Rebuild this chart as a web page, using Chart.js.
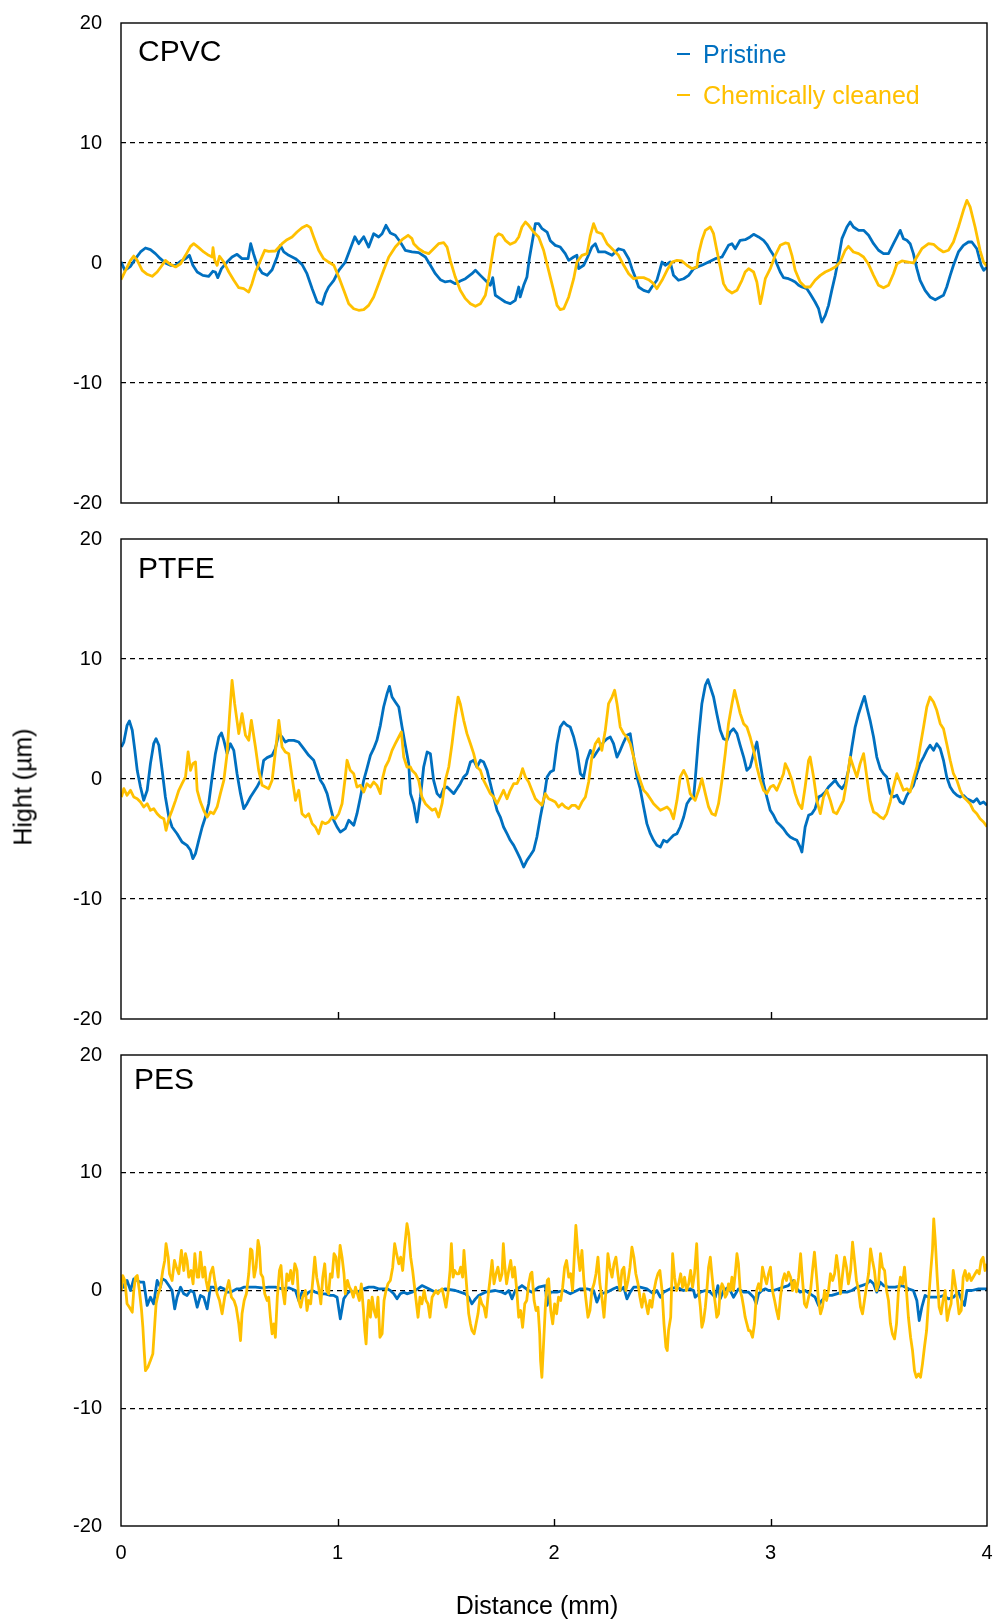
<!DOCTYPE html>
<html>
<head>
<meta charset="utf-8">
<title>Surface profiles</title>
<script src="https://cdn.jsdelivr.net/npm/chart.js@4.4.1/dist/chart.umd.min.js"></script>
<style>
  body { margin: 0; background: #fff; }
  #fig { position: relative; width: 995px; height: 1623px; font-family: "Liberation Sans", Arial, sans-serif; color: #000; }
  #fig canvas { position: absolute; left: 0; }
  .txt { position: absolute; line-height: 1; white-space: nowrap; transform: translateY(-50%); }
  .panel-name { font-size: 30px; }
  .legend { font-size: 25px; }
  .dash { position: absolute; width: 13px; height: 2px; }
  .axis-title { font-size: 25px; }
</style>
</head>
<body>
<div id="fig">
  <canvas id="cpvc" width="995" height="520" style="top:0px"></canvas>
  <canvas id="ptfe" width="995" height="516" style="top:520px"></canvas>
  <canvas id="pes" width="995" height="587" style="top:1036px"></canvas>

  <div class="txt panel-name" style="left:138px;top:51px">CPVC</div>
  <div class="txt panel-name" style="left:138px;top:568px">PTFE</div>
  <div class="txt panel-name" style="left:134px;top:1079px">PES</div>

  <div class="dash" style="left:677px;top:53px;background:#0070C0"></div>
  <div class="txt legend" style="left:703px;top:54px;color:#0070C0">Pristine</div>
  <div class="dash" style="left:677px;top:94px;background:#FFC000"></div>
  <div class="txt legend" style="left:703px;top:95px;color:#FFC000">Chemically cleaned</div>

  <div class="txt axis-title" style="left:23px;top:787px;transform:translate(-50%,-50%) rotate(-90deg)">Hight (µm)</div>
  <div class="txt axis-title" style="left:537px;top:1605px;transform:translate(-50%,-50%)">Distance (mm)</div>
</div>
<script>
// profile data: [distance (mm), height (µm)]
const seriesNames = ["Pristine", "Chemically cleaned"];
const distanceTicks = [0, 1, 2, 3, 4];
const heightTicks = [-20, -10, 0, 10, 20];

const cpvcPristine = [
  [0,0.1],[0.018,-0.61],[0.044,-0.28],[0.067,0.36],[0.09,0.92],[0.113,1.25],[0.136,1.11],[0.159,0.78],[0.182,0.36],[0.205,0.0],
  [0.228,-0.19],[0.252,-0.19],[0.275,0.14],[0.298,0.36],[0.316,0.64],[0.332,-0.19],[0.352,-0.75],[0.378,-1.03],[0.405,-1.11],[0.424,-0.69],
  [0.436,-0.75],[0.447,-1.22],[0.464,-0.47],[0.49,0.08],[0.513,0.5],[0.536,0.72],[0.559,0.36],[0.587,0.36],[0.599,1.61],[0.612,0.78],
  [0.629,-0.19],[0.652,-0.83],[0.675,-1.03],[0.698,-0.56],[0.721,0.5],[0.736,1.47],[0.752,0.92],[0.775,0.64],[0.806,0.36],[0.836,-0.11],
  [0.859,-0.89],[0.883,-2.14],[0.906,-3.25],[0.929,-3.44],[0.944,-2.56],[0.959,-2.0],[0.983,-1.44],[1.006,-0.61],[1.036,0.08],[1.059,1.19],
  [1.08,2.19],[1.098,1.61],[1.121,2.19],[1.144,1.33],[1.167,2.44],[1.19,2.17],[1.206,2.44],[1.224,3.14],[1.244,2.5],[1.267,2.31],
  [1.29,1.75],[1.313,1.06],[1.344,0.92],[1.375,0.86],[1.406,0.5],[1.429,-0.19],[1.452,-0.89],[1.475,-1.39],[1.498,-1.58],[1.521,-1.5],
  [1.544,-1.72],[1.567,-1.5],[1.591,-1.31],[1.621,-0.89],[1.637,-0.61],[1.66,-1.03],[1.691,-1.58],[1.706,-1.86],[1.717,-1.22],[1.729,-2.69],
  [1.752,-2.97],[1.775,-3.25],[1.798,-3.39],[1.821,-3.11],[1.837,-2.0],[1.844,-2.83],[1.86,-1.86],[1.875,-1.17],[1.886,0.36],[1.898,1.61],
  [1.914,3.28],[1.929,3.28],[1.945,2.86],[1.968,2.58],[1.983,1.86],[2.006,1.47],[2.029,1.33],[2.052,0.78],[2.068,0.22],[2.091,0.5],
  [2.106,0.64],[2.114,-0.47],[2.137,-0.19],[2.152,0.36],[2.175,1.33],[2.191,1.61],[2.206,0.92],[2.237,0.92],[2.268,0.64],[2.298,1.19],
  [2.322,1.06],[2.345,0.36],[2.36,-0.47],[2.375,-1.17],[2.391,-2.0],[2.414,-2.28],[2.437,-2.42],[2.452,-2.0],[2.475,-1.44],[2.499,0.08],
  [2.514,-0.19],[2.537,0.08],[2.552,-1.03],[2.575,-1.44],[2.599,-1.31],[2.622,-1.03],[2.645,-0.47],[2.668,-0.28],[2.683,-0.19],[2.714,0.08],
  [2.745,0.36],[2.776,0.5],[2.806,1.47],[2.822,1.61],[2.837,1.19],[2.86,1.89],[2.883,1.94],[2.906,2.17],[2.922,2.39],[2.945,2.17],
  [2.968,1.89],[2.983,1.56],[2.999,1.06],[3.014,0.64],[3.029,-0.06],[3.045,-0.75],[3.06,-1.22],[3.083,-1.31],[3.099,-1.44],[3.114,-1.58],
  [3.13,-1.86],[3.145,-2.0],[3.168,-2.14],[3.183,-2.56],[3.206,-3.25],[3.222,-3.81],[3.237,-4.92],[3.253,-4.36],[3.268,-3.53],[3.283,-2.28],
  [3.299,-1.03],[3.314,0.36],[3.33,2.03],[3.353,3.0],[3.368,3.42],[3.383,3.0],[3.407,2.72],[3.43,2.72],[3.453,2.31],[3.476,1.61],
  [3.499,1.06],[3.522,0.78],[3.545,0.78],[3.568,1.61],[3.584,2.17],[3.599,2.72],[3.614,2.03],[3.63,1.89],[3.645,1.61],[3.66,0.78],
  [3.676,-0.47],[3.691,-1.44],[3.714,-2.28],[3.737,-2.83],[3.761,-3.06],[3.784,-2.83],[3.799,-2.69],[3.814,-2.0],[3.83,-1.03],[3.845,-0.19],
  [3.868,0.92],[3.891,1.47],[3.914,1.75],[3.93,1.75],[3.953,1.19],[3.973,-0.19],[3.985,-0.61],[4.0,-0.33]
];

const cpvcCleaned = [
  [0,-1.39],[0.021,-0.61],[0.044,0.22],[0.059,0.58],[0.075,0.22],[0.098,-0.61],[0.121,-0.94],[0.144,-1.11],[0.167,-0.75],[0.19,-0.19],
  [0.205,0.22],[0.228,-0.11],[0.252,-0.33],[0.275,-0.06],[0.298,0.64],[0.321,1.39],[0.336,1.61],[0.359,1.28],[0.382,0.92],[0.405,0.64],
  [0.421,0.5],[0.425,1.28],[0.433,0.22],[0.444,-0.19],[0.455,0.56],[0.475,0.08],[0.498,-0.75],[0.521,-1.44],[0.544,-2.06],[0.567,-2.14],
  [0.59,-2.42],[0.605,-1.72],[0.621,-0.75],[0.644,0.22],[0.664,1.06],[0.682,0.97],[0.713,1.0],[0.744,1.61],[0.767,1.94],[0.79,2.17],
  [0.813,2.58],[0.836,2.94],[0.859,3.14],[0.875,2.94],[0.89,2.17],[0.913,1.06],[0.936,0.36],[0.959,0.08],[0.983,-0.19],[1.006,-1.17],
  [1.029,-2.28],[1.052,-3.39],[1.075,-3.81],[1.098,-3.94],[1.121,-3.89],[1.144,-3.53],[1.167,-2.83],[1.19,-1.72],[1.213,-0.61],[1.237,0.5],
  [1.267,1.33],[1.298,1.94],[1.326,2.31],[1.344,2.03],[1.352,1.61],[1.375,1.19],[1.398,0.92],[1.421,0.78],[1.444,1.19],[1.467,1.61],
  [1.491,1.69],[1.506,1.33],[1.521,0.22],[1.544,-1.17],[1.567,-2.28],[1.591,-2.97],[1.614,-3.39],[1.637,-3.61],[1.66,-3.39],[1.683,-2.69],
  [1.698,-1.31],[1.714,0.5],[1.729,2.17],[1.744,2.44],[1.76,2.31],[1.775,1.89],[1.798,1.56],[1.821,1.75],[1.837,2.17],[1.852,3.0],
  [1.868,3.42],[1.883,3.14],[1.906,2.58],[1.929,2.17],[1.952,1.06],[1.975,-0.61],[1.998,-2.28],[2.014,-3.53],[2.029,-3.89],[2.045,-3.81],
  [2.068,-2.83],[2.091,-1.31],[2.106,0.08],[2.129,0.64],[2.152,0.78],[2.168,2.31],[2.183,3.28],[2.198,2.58],[2.221,2.44],[2.245,1.61],
  [2.275,1.06],[2.298,0.64],[2.322,-0.19],[2.345,-0.89],[2.368,-1.31],[2.391,-1.22],[2.414,-1.22],[2.437,-1.39],[2.46,-1.72],[2.475,-2.14],
  [2.499,-1.44],[2.522,-0.61],[2.545,0.08],[2.568,0.22],[2.591,0.17],[2.614,-0.19],[2.637,-0.47],[2.66,-0.33],[2.668,0.78],[2.683,1.89],
  [2.699,2.72],[2.722,3.0],[2.737,2.44],[2.752,1.06],[2.768,-0.33],[2.783,-1.72],[2.799,-2.22],[2.822,-2.5],[2.845,-2.28],[2.868,-1.44],
  [2.883,-0.75],[2.899,-0.47],[2.922,-0.75],[2.937,-1.58],[2.953,-3.39],[2.96,-2.83],[2.976,-1.31],[2.999,-0.47],[3.022,0.64],[3.045,1.47],
  [3.068,1.67],[3.083,1.61],[3.099,0.64],[3.114,-0.61],[3.137,-1.58],[3.16,-2.0],[3.183,-2.0],[3.206,-1.44],[3.23,-1.03],[3.253,-0.75],
  [3.276,-0.56],[3.299,-0.33],[3.322,0.08],[3.345,1.06],[3.36,1.39],[3.383,0.92],[3.407,0.78],[3.43,0.5],[3.453,-0.11],[3.476,-1.03],
  [3.499,-1.86],[3.522,-2.06],[3.545,-1.86],[3.568,-0.89],[3.584,-0.06],[3.607,0.17],[3.637,0.08],[3.66,0.0],[3.676,0.5],[3.699,1.19],
  [3.73,1.61],[3.753,1.56],[3.776,1.19],[3.799,0.92],[3.822,1.06],[3.845,1.75],[3.868,3.0],[3.891,4.39],[3.907,5.22],[3.922,4.67],
  [3.945,3.0],[3.968,1.06],[3.984,0.08],[4.0,-0.28]
];

const ptfePristine = [
  [0.002,2.67],[0.013,3.08],[0.028,4.47],[0.039,4.83],[0.052,4.06],[0.064,2.39],[0.075,0.72],[0.09,-0.67],[0.105,-1.78],[0.121,-0.94],
  [0.136,1.28],[0.151,2.94],[0.162,3.36],[0.175,2.81],[0.19,0.72],[0.205,-1.5],[0.221,-3.17],[0.236,-4.0],[0.259,-4.56],[0.282,-5.25],
  [0.305,-5.53],[0.321,-5.94],[0.332,-6.64],[0.344,-6.22],[0.359,-5.11],[0.375,-4.0],[0.39,-3.17],[0.405,-2.06],[0.421,0.17],[0.436,2.11],
  [0.452,3.5],[0.464,3.83],[0.475,3.22],[0.49,2.11],[0.505,2.94],[0.521,2.39],[0.536,0.44],[0.552,-1.22],[0.567,-2.47],[0.582,-2.06],
  [0.598,-1.5],[0.613,-1.08],[0.628,-0.67],[0.644,-0.11],[0.659,1.56],[0.675,1.78],[0.698,1.97],[0.713,2.53],[0.729,3.78],[0.744,3.5],
  [0.759,3.08],[0.775,3.22],[0.798,3.22],[0.821,3.08],[0.844,2.53],[0.867,1.97],[0.89,1.56],[0.906,0.72],[0.921,-0.11],[0.936,-0.53],
  [0.952,-1.22],[0.967,-2.33],[0.983,-3.44],[0.998,-4.0],[1.013,-4.42],[1.036,-4.14],[1.052,-3.44],[1.075,-3.86],[1.09,-2.89],[1.106,-1.5],
  [1.121,-0.11],[1.136,0.86],[1.152,1.97],[1.167,2.53],[1.182,3.22],[1.198,4.47],[1.213,6.0],[1.229,7.11],[1.24,7.72],[1.252,6.83],
  [1.267,6.42],[1.283,6.0],[1.298,4.36],[1.313,2.83],[1.329,1.28],[1.337,-1.22],[1.352,-2.06],[1.367,-3.58],[1.383,-1.5],[1.398,1.0],
  [1.414,2.25],[1.429,2.11],[1.444,-0.11],[1.46,-1.22],[1.475,-1.5],[1.49,-0.81],[1.506,-0.67],[1.521,-0.94],[1.537,-1.22],[1.552,-0.81],
  [1.567,-0.39],[1.583,0.17],[1.598,0.44],[1.614,1.42],[1.629,1.56],[1.644,1.0],[1.66,1.56],[1.675,1.42],[1.691,0.72],[1.706,-0.39],
  [1.721,-1.5],[1.737,-2.61],[1.752,-3.17],[1.767,-4.0],[1.783,-4.56],[1.798,-5.11],[1.814,-5.53],[1.829,-6.08],[1.844,-6.64],[1.86,-7.33],
  [1.875,-6.78],[1.891,-6.36],[1.906,-5.94],[1.921,-4.83],[1.937,-3.17],[1.952,-1.78],[1.968,0.17],[1.983,0.58],[1.998,0.72],[2.014,2.94],
  [2.029,4.33],[2.045,4.75],[2.06,4.47],[2.075,4.33],[2.091,3.5],[2.106,2.39],[2.122,0.44],[2.137,0.17],[2.152,1.56],[2.168,2.39],
  [2.183,1.83],[2.198,2.25],[2.214,2.67],[2.229,3.08],[2.245,3.36],[2.26,3.5],[2.275,2.94],[2.291,1.83],[2.306,2.39],[2.322,3.08],
  [2.337,3.64],[2.352,3.78],[2.368,1.83],[2.383,0.17],[2.398,-0.81],[2.414,-2.33],[2.429,-3.72],[2.445,-4.56],[2.46,-5.11],[2.475,-5.53],
  [2.491,-5.67],[2.506,-5.11],[2.522,-5.25],[2.537,-4.97],[2.552,-4.69],[2.568,-4.56],[2.583,-4.0],[2.599,-3.17],[2.614,-2.06],[2.629,-1.64],
  [2.645,-1.5],[2.652,-0.11],[2.668,3.5],[2.683,6.28],[2.699,7.81],[2.711,8.28],[2.722,7.67],[2.737,6.83],[2.752,5.44],[2.768,4.06],
  [2.783,3.36],[2.799,3.22],[2.814,3.92],[2.829,4.19],[2.845,3.78],[2.86,2.81],[2.876,1.83],[2.891,0.72],[2.906,1.0],[2.922,2.11],
  [2.937,3.08],[2.953,1.28],[2.968,-0.39],[2.983,-1.5],[2.999,-2.61],[3.014,-3.03],[3.029,-3.58],[3.045,-3.86],[3.06,-4.14],[3.076,-4.56],
  [3.091,-4.83],[3.106,-4.97],[3.122,-5.11],[3.137,-5.67],[3.145,-6.08],[3.16,-4.0],[3.176,-3.03],[3.191,-2.89],[3.206,-2.47],[3.222,-1.5],
  [3.237,-1.36],[3.253,-1.08],[3.268,-0.67],[3.283,-0.39],[3.299,-0.11],[3.314,-0.53],[3.33,-0.81],[3.345,-0.39],[3.36,0.72],[3.376,2.67],
  [3.391,4.33],[3.407,5.44],[3.422,6.28],[3.434,6.89],[3.445,6.0],[3.46,4.89],[3.476,3.5],[3.491,1.83],[3.507,0.86],[3.522,0.44],
  [3.537,0.17],[3.553,-1.22],[3.568,-1.5],[3.584,-1.36],[3.599,-1.92],[3.614,-2.06],[3.63,-1.36],[3.645,-0.94],[3.66,-0.53],[3.676,0.44],
  [3.691,1.28],[3.707,1.83],[3.722,2.39],[3.737,2.81],[3.753,2.39],[3.768,2.94],[3.784,2.53],[3.799,1.56],[3.814,0.17],[3.83,-0.67],
  [3.845,-1.08],[3.861,-1.36],[3.876,-1.5],[3.891,-1.36],[3.907,-1.64],[3.922,-1.78],[3.937,-1.92],[3.953,-1.64],[3.968,-2.06],[3.984,-1.92],
  [4.0,-2.19]
];

const ptfeCleaned = [
  [0.002,-1.5],[0.013,-0.81],[0.028,-1.36],[0.044,-0.94],[0.059,-1.5],[0.075,-1.64],[0.09,-1.92],[0.105,-2.33],[0.121,-2.06],[0.136,-2.61],
  [0.151,-2.47],[0.167,-2.89],[0.182,-3.17],[0.198,-3.31],[0.208,-4.28],[0.221,-3.31],[0.236,-2.61],[0.252,-1.78],[0.267,-0.94],[0.282,-0.39],
  [0.298,0.17],[0.31,2.25],[0.321,0.72],[0.332,1.28],[0.344,1.42],[0.352,-0.94],[0.367,-1.92],[0.382,-2.61],[0.398,-3.17],[0.413,-2.75],
  [0.428,-2.89],[0.444,-2.33],[0.459,-1.22],[0.475,-0.11],[0.49,2.11],[0.501,5.17],[0.513,8.22],[0.525,6.28],[0.544,3.78],[0.559,5.44],
  [0.575,3.64],[0.59,3.22],[0.602,4.89],[0.621,2.67],[0.636,0.72],[0.652,-0.53],[0.667,-0.67],[0.682,-0.81],[0.698,-0.11],[0.713,2.25],
  [0.729,4.89],[0.744,2.67],[0.759,2.25],[0.775,2.11],[0.79,0.17],[0.806,-1.78],[0.821,-0.94],[0.836,-2.89],[0.852,-3.17],[0.867,-2.89],
  [0.883,-3.72],[0.898,-4.0],[0.913,-4.56],[0.929,-3.58],[0.944,-3.72],[0.959,-3.58],[0.975,-3.17],[0.99,-3.31],[1.006,-2.89],[1.021,-2.06],
  [1.036,0.17],[1.044,1.56],[1.059,0.72],[1.075,0.44],[1.09,-0.67],[1.106,-0.53],[1.121,-1.08],[1.136,-0.39],[1.152,-0.67],[1.167,-0.25],
  [1.182,-0.53],[1.198,-1.22],[1.206,-0.11],[1.221,1.0],[1.237,1.56],[1.252,2.39],[1.267,2.94],[1.283,3.5],[1.295,3.92],[1.306,1.83],
  [1.321,1.0],[1.337,1.0],[1.344,0.72],[1.36,0.44],[1.375,-0.11],[1.39,-1.5],[1.406,-2.06],[1.421,-2.33],[1.437,-2.61],[1.452,-2.47],
  [1.467,-3.17],[1.483,-2.06],[1.498,-0.11],[1.514,1.0],[1.529,2.94],[1.544,5.17],[1.557,6.83],[1.567,6.28],[1.583,4.89],[1.598,3.78],
  [1.614,2.94],[1.629,2.11],[1.644,1.0],[1.66,0.72],[1.675,-0.11],[1.691,-0.67],[1.706,-1.22],[1.721,-1.5],[1.737,-2.06],[1.752,-1.5],
  [1.767,-0.94],[1.783,-1.64],[1.798,-0.94],[1.814,-0.39],[1.829,-0.39],[1.844,0.17],[1.855,0.86],[1.868,0.17],[1.883,-0.25],[1.898,-0.94],
  [1.914,-1.64],[1.929,-1.92],[1.944,-2.19],[1.96,-1.22],[1.975,-1.64],[1.991,-1.78],[2.006,-1.92],[2.021,-2.33],[2.037,-2.06],[2.052,-2.33],
  [2.068,-2.47],[2.083,-2.19],[2.098,-2.19],[2.114,-2.47],[2.129,-1.92],[2.145,-1.5],[2.16,-0.25],[2.175,1.83],[2.191,2.94],[2.206,3.36],
  [2.221,2.39],[2.237,4.06],[2.252,6.28],[2.268,6.83],[2.28,7.39],[2.291,6.28],[2.306,4.33],[2.322,3.78],[2.337,3.5],[2.352,2.94],
  [2.368,1.83],[2.383,0.72],[2.398,-0.11],[2.414,-0.94],[2.429,-1.22],[2.445,-1.64],[2.46,-2.06],[2.475,-2.33],[2.491,-2.61],[2.506,-2.47],
  [2.522,-2.33],[2.537,-2.61],[2.552,-3.31],[2.568,-1.78],[2.583,0.17],[2.599,0.72],[2.614,0.17],[2.629,-1.22],[2.645,-1.64],[2.652,-1.78],
  [2.668,-0.94],[2.683,0.03],[2.699,-1.22],[2.714,-2.33],[2.729,-2.89],[2.745,-3.03],[2.76,-2.06],[2.776,-0.11],[2.791,2.11],[2.806,4.61],
  [2.822,6.28],[2.834,7.39],[2.845,6.58],[2.86,5.47],[2.876,4.61],[2.891,4.33],[2.906,3.5],[2.922,2.39],[2.937,1.0],[2.953,-0.11],
  [2.968,-0.94],[2.983,-1.22],[2.999,-0.67],[3.014,-0.53],[3.029,-0.94],[3.045,-0.25],[3.06,0.44],[3.068,1.28],[3.083,0.72],[3.099,-0.11],
  [3.114,-1.22],[3.13,-2.06],[3.145,-2.47],[3.16,-0.67],[3.176,1.56],[3.183,1.83],[3.199,0.17],[3.214,-1.78],[3.23,-2.89],[3.245,-1.5],
  [3.26,-0.94],[3.276,-1.78],[3.291,-2.75],[3.306,-2.89],[3.322,-2.33],[3.337,-1.78],[3.353,-0.11],[3.368,1.83],[3.383,1.0],[3.399,0.17],
  [3.414,1.28],[3.43,2.11],[3.445,0.17],[3.46,-1.78],[3.476,-2.75],[3.491,-2.89],[3.507,-3.17],[3.522,-3.31],[3.537,-2.89],[3.553,-1.92],
  [3.568,-0.67],[3.584,0.44],[3.599,-0.25],[3.614,-0.94],[3.63,-0.81],[3.645,-1.08],[3.66,0.03],[3.676,1.0],[3.691,2.67],[3.707,4.33],
  [3.722,6.0],[3.737,6.83],[3.753,6.42],[3.768,5.72],[3.784,4.61],[3.799,4.19],[3.814,2.94],[3.83,1.56],[3.845,0.44],[3.861,-0.11],
  [3.876,-0.94],[3.891,-1.5],[3.907,-1.78],[3.922,-2.06],[3.937,-2.61],[3.953,-2.89],[3.968,-3.31],[3.984,-3.58],[4.0,-3.97]
];

const pesPristine = [
  [0.002,0.71],[0.013,0.28],[0.028,0.85],[0.044,0.0],[0.059,0.99],[0.075,0.85],[0.09,0.71],[0.105,0.71],[0.121,-1.27],[0.136,-0.57],
  [0.151,-1.13],[0.167,0.85],[0.182,0.28],[0.19,0.99],[0.205,0.85],[0.221,0.42],[0.236,0.0],[0.248,-1.56],[0.259,-0.57],[0.275,0.28],
  [0.29,-0.28],[0.305,-0.42],[0.321,0.0],[0.336,-0.14],[0.352,-1.42],[0.367,-0.42],[0.382,-0.57],[0.398,-1.56],[0.413,0.28],[0.428,0.28],
  [0.444,0.0],[0.459,0.28],[0.475,0.14],[0.49,-0.14],[0.505,-0.14],[0.521,0.0],[0.536,0.14],[0.552,0.14],[0.567,0.28],[0.582,0.28],
  [0.598,0.28],[0.621,0.28],[0.652,0.23],[0.682,0.28],[0.713,0.28],[0.744,0.14],[0.775,0.23],[0.806,0.0],[0.821,-0.85],[0.836,-0.14],
  [0.852,-0.42],[0.867,-0.14],[0.883,0.0],[0.898,-0.14],[0.921,-0.28],[0.944,-0.28],[0.967,-0.42],[0.983,-0.42],[0.998,-0.57],[1.013,-2.41],
  [1.029,-0.71],[1.044,-0.28],[1.059,0.0],[1.075,-0.14],[1.09,-0.14],[1.106,0.0],[1.121,0.14],[1.144,0.28],[1.167,0.28],[1.19,0.14],
  [1.213,0.14],[1.229,0.14],[1.244,0.0],[1.26,-0.28],[1.275,-0.71],[1.29,-0.28],[1.306,-0.14],[1.321,-0.28],[1.344,-0.14],[1.36,0.0],
  [1.39,0.42],[1.421,0.14],[1.452,-0.14],[1.498,0.14],[1.544,0.0],[1.591,-0.28],[1.606,-0.57],[1.621,-1.13],[1.637,-0.71],[1.652,-0.42],
  [1.683,-0.14],[1.729,0.0],[1.76,-0.14],[1.775,-0.28],[1.791,0.0],[1.806,-0.71],[1.821,0.0],[1.852,0.42],[1.883,0.0],[1.898,-0.14],
  [1.929,0.28],[1.96,0.42],[1.968,-1.27],[1.983,-0.14],[2.014,-0.14],[2.045,0.0],[2.075,-0.28],[2.106,0.0],[2.122,0.14],[2.152,0.14],
  [2.183,0.0],[2.198,-0.99],[2.214,-0.28],[2.245,-0.14],[2.275,0.14],[2.291,0.28],[2.306,0.0],[2.322,0.28],[2.337,-0.71],[2.352,-0.14],
  [2.368,0.28],[2.398,0.28],[2.429,0.14],[2.46,-0.28],[2.475,0.0],[2.491,-0.57],[2.506,-0.14],[2.537,0.14],[2.568,0.28],[2.599,0.0],
  [2.629,0.14],[2.645,0.0],[2.652,-0.57],[2.676,-0.14],[2.699,0.0],[2.722,-0.14],[2.745,-0.57],[2.757,0.42],[2.768,-0.71],[2.783,0.0],
  [2.806,0.28],[2.829,-0.57],[2.852,0.14],[2.876,-0.14],[2.899,-0.14],[2.922,-0.57],[2.934,-1.13],[2.945,-0.28],[2.96,0.0],[2.976,0.14],
  [2.991,0.0],[3.014,0.0],[3.037,0.14],[3.06,0.28],[3.083,0.42],[3.106,0.85],[3.122,0.14],[3.137,-0.14],[3.16,0.0],[3.183,-0.28],
  [3.206,-0.57],[3.222,-1.27],[3.237,-0.85],[3.26,-0.42],[3.283,-0.42],[3.306,-0.28],[3.33,-0.14],[3.353,-0.14],[3.376,0.0],[3.399,0.28],
  [3.422,0.42],[3.445,0.57],[3.46,0.85],[3.476,0.57],[3.491,-0.14],[3.507,0.71],[3.522,0.42],[3.545,0.28],[3.576,0.28],[3.607,0.42],
  [3.637,0.14],[3.66,0.0],[3.676,-0.85],[3.687,-2.55],[3.699,-1.42],[3.714,-0.42],[3.73,-0.57],[3.753,-0.57],[3.776,-0.57],[3.799,-0.42],
  [3.822,-0.71],[3.845,-0.57],[3.868,-0.14],[3.884,-0.85],[3.896,-1.27],[3.907,0.0],[3.93,0.0],[3.961,0.14],[4.0,0.14]
];

const pesCleaned = [
  [0.002,0.0],[0.008,1.27],[0.018,0.85],[0.028,-1.13],[0.039,-1.42],[0.052,-1.84],[0.059,0.0],[0.067,1.13],[0.075,1.27],[0.085,0.0],
  [0.095,-1.7],[0.101,-3.12],[0.107,-5.1],[0.113,-6.8],[0.124,-6.52],[0.136,-5.95],[0.147,-5.38],[0.156,-2.83],[0.162,-1.13],[0.172,-0.28],
  [0.182,0.28],[0.193,1.7],[0.202,2.55],[0.208,3.97],[0.218,2.83],[0.224,1.42],[0.236,0.85],[0.247,2.55],[0.256,1.98],[0.267,1.42],
  [0.279,3.4],[0.29,1.7],[0.298,3.12],[0.305,2.55],[0.313,1.13],[0.324,1.7],[0.333,0.57],[0.341,3.12],[0.352,1.13],[0.359,1.13],
  [0.367,3.26],[0.378,1.13],[0.387,1.98],[0.393,0.85],[0.402,0.0],[0.413,1.42],[0.424,1.98],[0.433,0.85],[0.444,-0.28],[0.455,-0.85],
  [0.467,-1.98],[0.479,-0.57],[0.487,0.0],[0.498,0.85],[0.51,-0.57],[0.522,-0.85],[0.532,-1.42],[0.544,-2.83],[0.552,-4.25],[0.559,-1.98],
  [0.569,-0.85],[0.579,-0.28],[0.59,1.42],[0.598,3.54],[0.605,3.4],[0.615,1.13],[0.624,1.98],[0.633,4.25],[0.639,3.68],[0.646,1.42],
  [0.655,1.13],[0.664,-0.28],[0.675,-0.85],[0.682,-0.57],[0.69,-2.27],[0.698,-3.68],[0.706,-2.83],[0.713,-3.97],[0.722,-0.57],[0.732,1.7],
  [0.739,2.12],[0.747,0.0],[0.756,-1.13],[0.766,1.42],[0.775,0.85],[0.784,1.7],[0.793,0.57],[0.803,2.27],[0.813,1.7],[0.821,-0.85],
  [0.83,-1.42],[0.839,-0.57],[0.852,0.0],[0.859,-1.7],[0.867,-0.85],[0.876,-1.13],[0.886,0.85],[0.895,2.83],[0.904,1.13],[0.913,0.28],
  [0.923,-1.13],[0.932,1.13],[0.941,2.27],[0.95,0.0],[0.959,-0.28],[0.967,1.42],[0.975,1.13],[0.984,3.12],[0.993,2.83],[1.003,1.13],
  [1.012,3.83],[1.021,2.83],[1.03,1.42],[1.036,-0.28],[1.046,0.85],[1.055,0.28],[1.064,0.0],[1.073,-0.57],[1.083,0.28],[1.092,-0.28],
  [1.101,-0.85],[1.11,0.57],[1.12,-1.7],[1.126,-3.4],[1.132,-4.53],[1.138,-2.27],[1.144,-0.85],[1.152,-2.27],[1.16,-0.57],[1.169,-1.7],
  [1.178,-2.27],[1.187,-0.57],[1.196,-3.97],[1.206,-3.68],[1.215,-0.85],[1.224,0.0],[1.233,0.57],[1.244,0.85],[1.255,1.98],[1.264,3.97],
  [1.273,3.12],[1.283,2.27],[1.292,2.83],[1.301,1.7],[1.31,3.68],[1.321,5.67],[1.329,4.82],[1.338,2.83],[1.347,1.7],[1.363,-0.85],
  [1.372,-2.27],[1.381,-0.57],[1.39,-1.13],[1.4,0.0],[1.409,-0.85],[1.418,-1.13],[1.427,-2.27],[1.437,-0.57],[1.446,-0.28],[1.455,0.0],
  [1.464,-0.28],[1.474,0.0],[1.483,0.14],[1.492,-0.57],[1.501,-1.42],[1.51,-0.28],[1.52,1.7],[1.526,3.97],[1.534,1.13],[1.541,1.7],
  [1.551,1.42],[1.56,1.42],[1.569,1.98],[1.578,1.13],[1.584,3.4],[1.591,1.7],[1.598,0.0],[1.606,-1.98],[1.614,-2.83],[1.621,-3.4],
  [1.631,-3.68],[1.64,-2.83],[1.649,-1.98],[1.658,-0.57],[1.667,-1.13],[1.677,-1.42],[1.686,-2.27],[1.695,-0.57],[1.704,0.85],[1.714,2.55],
  [1.723,0.57],[1.732,1.42],[1.741,1.98],[1.751,0.85],[1.76,1.42],[1.766,3.97],[1.772,2.27],[1.781,0.57],[1.791,1.7],[1.8,2.55],
  [1.809,1.13],[1.818,1.98],[1.828,0.0],[1.837,-2.27],[1.846,-1.7],[1.855,-3.12],[1.865,-1.13],[1.874,-0.85],[1.883,0.57],[1.892,1.42],
  [1.898,1.56],[1.908,-0.85],[1.917,-1.7],[1.926,-1.42],[1.934,-3.68],[1.938,-5.95],[1.944,-7.37],[1.951,-4.82],[1.96,-1.42],[1.969,0.85],
  [1.975,0.99],[1.985,-1.7],[1.994,-2.83],[2.003,-1.13],[2.012,-1.98],[2.021,-0.57],[2.031,-0.85],[2.04,0.28],[2.049,1.98],[2.058,2.55],
  [2.068,1.13],[2.077,1.42],[2.086,0.0],[2.095,3.4],[2.101,5.52],[2.111,3.12],[2.12,1.7],[2.129,3.4],[2.138,0.85],[2.148,-0.85],
  [2.157,-2.27],[2.166,-1.7],[2.175,0.0],[2.185,0.57],[2.194,1.42],[2.203,2.83],[2.212,0.57],[2.221,-0.57],[2.231,-2.27],[2.24,0.0],
  [2.249,3.12],[2.258,1.98],[2.268,1.13],[2.277,2.27],[2.286,2.83],[2.295,1.42],[2.305,0.0],[2.314,1.7],[2.323,1.98],[2.332,0.0],
  [2.342,0.85],[2.351,1.98],[2.36,3.68],[2.369,2.83],[2.378,1.42],[2.388,0.57],[2.397,-0.57],[2.406,-1.42],[2.415,-0.28],[2.425,-1.13],
  [2.434,-1.98],[2.443,-0.85],[2.452,-1.42],[2.462,0.0],[2.471,0.85],[2.48,1.42],[2.489,1.7],[2.499,0.0],[2.508,-2.83],[2.517,-4.82],
  [2.523,-5.1],[2.529,-3.4],[2.539,-2.27],[2.548,3.12],[2.557,1.13],[2.566,0.0],[2.576,0.57],[2.585,1.42],[2.594,0.28],[2.603,1.13],
  [2.612,0.0],[2.622,0.57],[2.631,1.7],[2.64,0.28],[2.649,1.42],[2.659,3.97],[2.668,0.0],[2.676,-1.42],[2.683,-3.12],[2.691,-2.55],
  [2.699,-1.42],[2.706,0.0],[2.714,1.98],[2.722,2.83],[2.729,1.42],[2.737,0.0],[2.745,-1.13],[2.752,-2.27],[2.76,-1.98],[2.768,0.0],
  [2.776,0.57],[2.783,0.28],[2.791,-0.57],[2.799,-0.28],[2.806,0.57],[2.814,0.0],[2.822,1.13],[2.829,0.0],[2.837,1.42],[2.845,3.12],
  [2.852,2.27],[2.86,0.0],[2.868,-0.57],[2.876,-1.42],[2.883,-2.27],[2.891,-2.83],[2.899,-3.4],[2.906,-3.4],[2.917,-3.97],[2.926,-2.83],
  [2.936,0.0],[2.945,0.57],[2.954,0.0],[2.963,1.98],[2.973,1.13],[2.982,0.57],[2.991,1.42],[3.0,1.98],[3.009,0.0],[3.019,-0.85],
  [3.028,-1.7],[3.037,-2.41],[3.046,-0.57],[3.056,0.85],[3.065,1.42],[3.074,0.85],[3.083,1.56],[3.093,1.13],[3.102,0.0],[3.111,0.85],
  [3.12,-0.11],[3.13,1.13],[3.139,3.12],[3.148,0.85],[3.157,-1.13],[3.166,-1.42],[3.176,-0.57],[3.185,0.0],[3.194,1.7],[3.203,3.26],
  [3.213,1.13],[3.222,-0.85],[3.231,-1.98],[3.24,-1.42],[3.25,0.0],[3.259,-0.85],[3.268,0.0],[3.277,1.42],[3.287,0.85],[3.296,1.42],
  [3.305,2.97],[3.314,1.7],[3.323,-0.28],[3.333,1.42],[3.342,2.83],[3.351,1.98],[3.36,0.57],[3.37,1.7],[3.379,4.11],[3.388,2.55],
  [3.397,0.85],[3.407,0.0],[3.416,-1.42],[3.425,-1.98],[3.434,-0.85],[3.443,0.28],[3.453,1.42],[3.462,3.54],[3.471,2.55],[3.48,1.7],
  [3.49,0.0],[3.499,0.57],[3.508,3.12],[3.517,1.98],[3.527,1.7],[3.536,0.0],[3.545,-0.85],[3.554,-2.83],[3.563,-3.68],[3.573,-4.11],
  [3.582,-2.83],[3.591,0.0],[3.6,1.13],[3.61,0.57],[3.619,1.98],[3.628,0.0],[3.637,-2.27],[3.647,-3.97],[3.656,-5.1],[3.665,-6.8],
  [3.674,-7.37],[3.684,-7.08],[3.693,-7.37],[3.702,-6.23],[3.711,-4.82],[3.721,-3.4],[3.73,-0.85],[3.739,1.42],[3.748,3.4],[3.754,6.09],
  [3.761,4.25],[3.77,1.13],[3.779,-1.42],[3.788,-1.98],[3.797,-0.85],[3.807,0.0],[3.816,-2.55],[3.825,-1.7],[3.834,-1.13],[3.844,1.7],
  [3.853,0.57],[3.862,-0.57],[3.871,-1.98],[3.881,-1.7],[3.89,1.13],[3.899,1.7],[3.908,0.85],[3.917,1.42],[3.927,0.85],[3.936,1.13],
  [3.945,1.42],[3.954,1.7],[3.964,1.42],[3.973,2.55],[3.982,2.83],[3.991,1.7],[4.0,2.27]
];

const blue = "#0070C0";
const yellow = "#FFC000";

Chart.defaults.font.family = '"Liberation Sans", Arial, sans-serif';
Chart.defaults.color = "#000";

function toXY(rows) {
  return rows.map(r => ({ x: r[0], y: r[1] }));
}

// black box round the plot area plus short inward tick marks on the bottom edge
const framePlugin = {
  id: "frame",
  afterDatasetsDraw(chart) {
    const { ctx, chartArea: a, scales } = chart;
    ctx.save();
    ctx.strokeStyle = "#000";
    ctx.lineWidth = 1.4;
    ctx.strokeRect(a.left, a.top, a.right - a.left, a.bottom - a.top);
    distanceTicks.slice(1, -1).forEach(v => {
      const px = Math.round(scales.x.getPixelForValue(v)) + 0.5;
      ctx.beginPath();
      ctx.moveTo(px, a.bottom);
      ctx.lineTo(px, a.bottom - 7);
      ctx.stroke();
    });
    ctx.restore();
  }
};

function makePanel(id, pristine, cleaned, padTop, padBottom, showX) {
  return new Chart(document.getElementById(id), {
    type: "line",
    data: {
      datasets: [
        { label: seriesNames[0], data: toXY(pristine), borderColor: blue, order: 1 },
        { label: seriesNames[1], data: toXY(cleaned), borderColor: yellow, order: 0 }
      ]
    },
    options: {
      responsive: false,
      animation: false,
      events: [],
      layout: { padding: { left: 0, right: 8, top: padTop, bottom: padBottom } },
      elements: {
        point: { radius: 0 },
        line: { borderWidth: 2.8, tension: 0, borderJoinStyle: "round" }
      },
      plugins: { legend: { display: false }, tooltip: { enabled: false } },
      scales: {
        x: {
          type: "linear",
          min: 0,
          max: 4,
          afterBuildTicks: s => { s.ticks = distanceTicks.map(v => ({ value: v })); },
          afterFit: s => {
            s.height = showX ? 97 : 0;
            s.paddingLeft = 0;
            s.paddingRight = 0;
          },
          grid: { display: false, drawTicks: false },
          border: { display: false },
          ticks: { display: showX, padding: 15, maxRotation: 0, font: { size: 20 } }
        },
        y: {
          type: "linear",
          min: -20,
          max: 20,
          afterBuildTicks: s => { s.ticks = heightTicks.map(v => ({ value: v })); },
          afterFit: s => {
            s.width = 121;
            s.paddingTop = 0;
            s.paddingBottom = 0;
          },
          grid: {
            drawTicks: false,
            lineWidth: 1.2,
            color: c => (c.tick && Math.abs(c.tick.value) === 20) ? "rgba(0,0,0,0)" : "#000"
          },
          border: { display: false, dash: [5, 4] },
          ticks: { padding: 19, font: { size: 20 } }
        }
      }
    },
    plugins: [framePlugin]
  });
}

makePanel("cpvc", cpvcPristine, cpvcCleaned, 23, 17, false);
makePanel("ptfe", ptfePristine, ptfeCleaned, 19, 17, false);
makePanel("pes", pesPristine, pesCleaned, 19, 0, true);
</script>
</body>
</html>
